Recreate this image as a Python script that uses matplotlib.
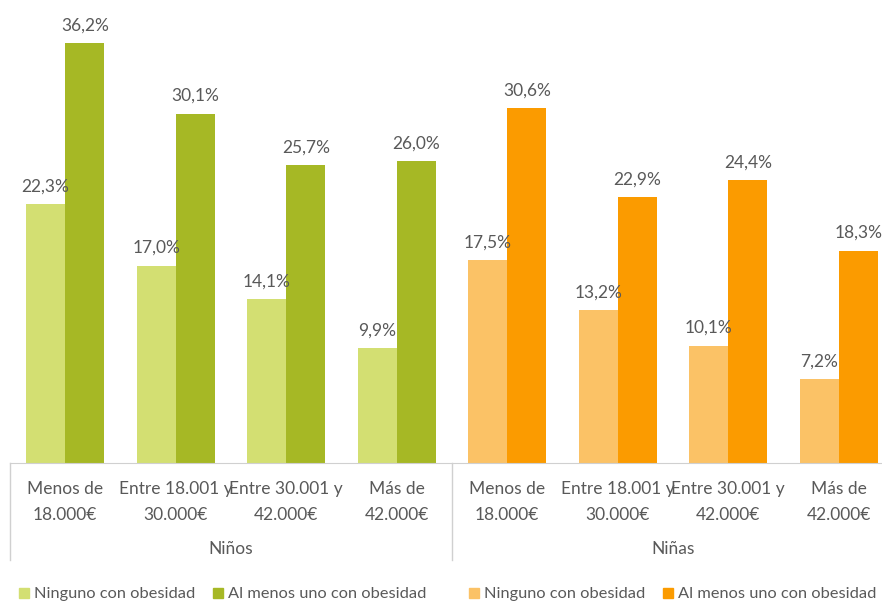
import numpy as np
import matplotlib
matplotlib.use("Agg")
import matplotlib.pyplot as plt
from matplotlib.lines import Line2D
import matplotlib.transforms as mtransforms

# income brackets, repeated for boys and girls
categorias = ["Menos de\n18.000€", "Entre 18.001 y\n30.000€",
              "Entre 30.001 y\n42.000€", "Más de\n42.000€"]
grupos = ["Niños", "Niñas"]

ninos_ninguno = [22.3, 17.0, 14.1, 9.9]
ninos_alguno = [36.2, 30.1, 25.7, 26.0]
ninas_ninguno = [17.5, 13.2, 10.1, 7.2]
ninas_alguno = [30.6, 22.9, 24.4, 18.3]

c_ninos = ["#d3df72", "#a6b825"]
c_ninas = ["#fbc266", "#fb9b00"]
gris = "#595959"

plt.rcParams['font.family'] = ['Lato', 'DejaVu Sans']

W, H = 882, 604
fig = plt.figure(figsize=(W / 100, H / 100), dpi=100)
# axes runs a bit past the right edge, like the cropped source
ax = fig.add_axes([10 / W, (H - 463) / H, 884 / W, 464 / H])

ancho = 0.355
x1 = np.arange(4)
x2 = np.arange(4) + 4

series = [
    (x1, ninos_ninguno, ninos_alguno, c_ninos),
    (x2, ninas_ninguno, ninas_alguno, c_ninas),
]
for xs, a, b, cols in series:
    b1 = ax.bar(xs - ancho / 2, a, ancho, color=cols[0])
    b2 = ax.bar(xs + ancho / 2, b, ancho, color=cols[1])
    for barras, vals in ((b1, a), (b2, b)):
        for r, v in zip(barras, vals):
            ax.annotate(f"{v:.1f}%".replace(".", ","),
                        (r.get_x() + r.get_width() / 2, v),
                        xytext=(0, 7), textcoords="offset points",
                        ha="center", va="bottom", fontsize=12.5, color=gris)

ax.set_xlim(-0.5, 7.5)
ax.set_ylim(0, 40)
ax.set_yticks([])
ax.set_xticks(np.arange(8))
ax.set_xticklabels(categorias * 2, fontsize=12.5, color=gris, linespacing=1.75)
ax.tick_params(axis="x", length=0, pad=13)
for s in ["top", "right", "left"]:
    ax.spines[s].set_visible(False)
ax.spines["bottom"].set_color("#d0d0d0")

# group separators and group names under the tick labels
tr = mtransforms.blended_transform_factory(ax.transData, ax.transAxes)
for xv in [-0.5, 3.5, 7.5]:
    ax.plot([xv, xv], [0, -0.21], transform=tr, color="#d0d0d0",
            lw=1, clip_on=False)
for xc, g in zip([1.5, 5.5], grupos):
    ax.text(xc, -0.185, g, transform=tr, ha="center", va="center",
            fontsize=12.5, color=gris)

etiquetas = ["Ninguno con obesidad", "Al menos uno con obesidad"]
h1 = [Line2D([], [], ls="", marker="s", ms=7, color=c) for c in c_ninos]
h2 = [Line2D([], [], ls="", marker="s", ms=7, color=c) for c in c_ninas]
fig.legend(h1, etiquetas, ncol=2, loc="center left",
           bbox_to_anchor=(4 / W, 10 / H), frameon=False,
           handlelength=0.6, handletextpad=0.3, columnspacing=1.1,
           fontsize=11.8, labelcolor=gris)
fig.legend(h2, etiquetas, ncol=2, loc="center left",
           bbox_to_anchor=(454 / W, 10 / H), frameon=False,
           handlelength=0.6, handletextpad=0.3, columnspacing=1.1,
           fontsize=11.8, labelcolor=gris)

fig.savefig("out.png", dpi=100)
